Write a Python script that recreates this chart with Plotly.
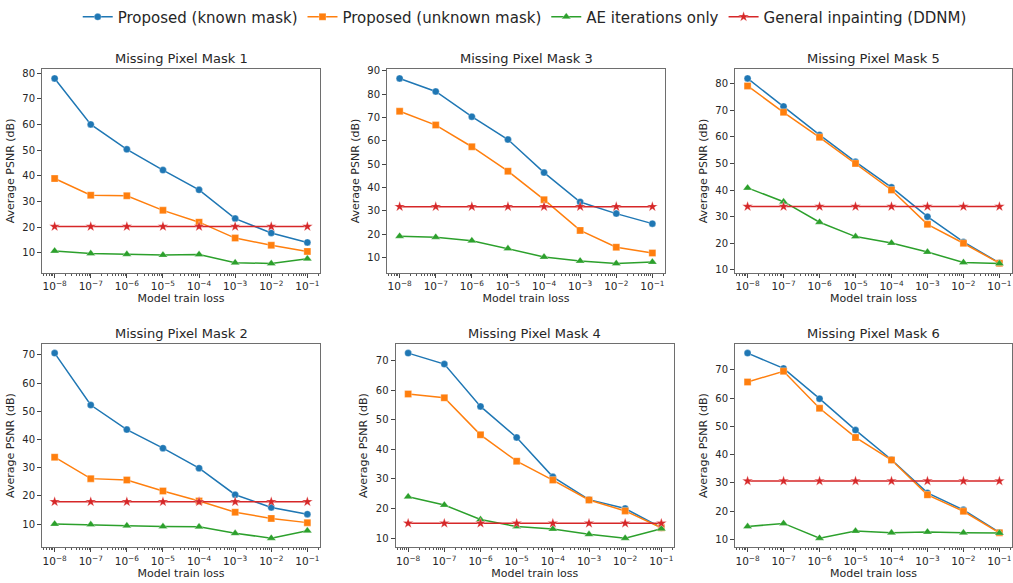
import plotly.graph_objects as go

# ---------------- data ----------------
train_loss = [1e-8, 1e-7, 1e-6, 1e-5, 1e-4, 1e-3, 1e-2, 1e-1]
tick_labels = ["10<sup>−8</sup>", "10<sup>−7</sup>", "10<sup>−6</sup>", "10<sup>−5</sup>",
               "10<sup>−4</sup>", "10<sup>−3</sup>", "10<sup>−2</sup>", "10<sup>−1</sup>"]
series_names = ["Proposed (known mask)", "Proposed (unknown mask)",
                "AE iterations only", "General inpainting (DDNM)"]

mask1_known = [77.9, 60.0, 50.3, 42.2, 34.5, 23.3, 17.7, 14.0]
mask1_unknown = [38.9, 32.4, 32.2, 26.5, 21.9, 15.7, 12.9, 10.5]
mask1_ae = [10.7, 9.7, 9.4, 9.1, 9.3, 6.1, 5.8, 7.6]
mask1_ddnm = [20.2] * 8

mask2_known = [70.6, 52.2, 43.5, 36.9, 29.8, 20.4, 15.9, 13.5]
mask2_unknown = [33.7, 26.1, 25.6, 21.7, 18.2, 14.2, 12.0, 10.5]
mask2_ae = [10.0, 9.8, 9.4, 9.1, 9.0, 6.7, 5.0, 7.6]
mask2_ddnm = [17.9] * 8

mask3_known = [86.8, 81.2, 70.4, 60.6, 46.4, 33.8, 28.8, 24.5]
mask3_unknown = [72.7, 66.8, 57.5, 47.0, 34.8, 21.6, 14.4, 11.9]
mask3_ae = [19.1, 18.7, 17.2, 13.8, 10.2, 8.5, 7.4, 8.0]
mask3_ddnm = [31.8] * 8

mask4_known = [72.5, 68.8, 54.5, 44.0, 30.7, 23.0, 20.0, 13.5]
mask4_unknown = [58.7, 57.4, 44.9, 36.0, 29.6, 22.9, 19.2, 13.5]
mask4_ae = [24.0, 21.2, 16.3, 13.9, 13.1, 11.3, 10.0, 13.2]
mask4_ddnm = [15.0] * 8

mask5_known = [81.9, 71.4, 60.7, 50.6, 41.0, 30.0, 20.5, 12.6]
mask5_unknown = [79.1, 69.2, 59.8, 50.0, 40.0, 27.1, 20.0, 12.5]
mask5_ae = [40.8, 35.6, 27.9, 22.5, 20.1, 16.7, 12.8, 12.4]
mask5_ddnm = [33.8] * 8

mask6_known = [75.9, 70.5, 59.8, 48.7, 38.2, 26.5, 20.5, 12.5]
mask6_unknown = [65.7, 69.5, 56.4, 46.1, 38.1, 25.8, 20.0, 12.4]
mask6_ae = [14.6, 15.7, 10.5, 13.0, 12.4, 12.7, 12.4, 12.3]
mask6_ddnm = [30.7] * 8

panels = [
    ("Missing Pixel Mask 1", [mask1_known, mask1_unknown, mask1_ae, mask1_ddnm]),
    ("Missing Pixel Mask 3", [mask3_known, mask3_unknown, mask3_ae, mask3_ddnm]),
    ("Missing Pixel Mask 5", [mask5_known, mask5_unknown, mask5_ae, mask5_ddnm]),
    ("Missing Pixel Mask 2", [mask2_known, mask2_unknown, mask2_ae, mask2_ddnm]),
    ("Missing Pixel Mask 4", [mask4_known, mask4_unknown, mask4_ae, mask4_ddnm]),
    ("Missing Pixel Mask 6", [mask6_known, mask6_unknown, mask6_ae, mask6_ddnm]),
]

# ---------------- style ----------------
W, H = 1013, 583
colors = ["#1f77b4", "#ff7f0e", "#2ca02c", "#d62728"]
symbols = ["circle", "square", "triangle-up", "star"]
msizes = [7, 7, 8, 8]
FONT = "DejaVu Sans"
TXT = "#262626"

# axes boxes in pixels: (left, right, top, bottom)
boxes = [
    (42, 320, 66, 272), (387, 665, 66, 272), (735, 1012, 66, 272),
    (42, 320, 344, 550), (395.5, 674, 344, 550), (735, 1012, 344, 550),
]

fig = go.Figure()
annotations = []
for i, ((title, ys), (l, r, t, b)) in enumerate(zip(panels, boxes)):
    n = i + 1
    xa = "x" if n == 1 else f"x{n}"
    ya = "y" if n == 1 else f"y{n}"
    for k in range(4):
        fig.add_trace(go.Scatter(
            x=train_loss, y=ys[k], mode="lines+markers", name=series_names[k],
            legendgroup=series_names[k], showlegend=(i == 0),
            line=dict(color=colors[k], width=1.5),
            marker=dict(symbol=symbols[k], size=msizes[k], color=colors[k],
                        line=dict(width=0.6, color="rgba(255,255,255,0.5)")),
            xaxis=xa, yaxis=ya))
    allv = [v for s in ys for v in s]
    lo, hi = min(allv), max(allv)
    pad = 0.05 * (hi - lo)
    xd = [l / W, r / W]
    yd = [1 - b / H, 1 - t / H]
    axis_common = dict(showline=True, mirror=True, linecolor="#6e6e6e", linewidth=1,
                       ticks="outside", ticklen=4, tickcolor="#444", tickwidth=1,
                       showgrid=False, zeroline=False)
    fig.update_layout(**{
        ("xaxis" if n == 1 else f"xaxis{n}"): dict(
            domain=xd, anchor=ya, type="log", range=[-8.35, -0.65],
            tickmode="array", tickvals=train_loss, ticktext=tick_labels,
            tickfont=dict(family=FONT, size=10.5, color=TXT),
            minor=dict(ticks="outside", ticklen=2, tickcolor="#555", dtick="D1", showgrid=False),
            title=dict(text="Model train loss", font=dict(family=FONT, size=11, color=TXT), standoff=1),
            **axis_common),
        ("yaxis" if n == 1 else f"yaxis{n}"): dict(
            domain=yd, anchor=xa, range=[lo - pad, hi + pad], tick0=0, dtick=10,
            tickfont=dict(family=FONT, size=10, color=TXT),
            title=dict(text="Average PSNR (dB)", font=dict(family=FONT, size=11, color=TXT), standoff=5),
            **axis_common),
    })
    annotations.append(dict(text=title, x=(l + r) / 2 / W, y=1 - t / H, xref="paper", yref="paper",
                            xanchor="center", yanchor="bottom", yshift=1, showarrow=False,
                            font=dict(family=FONT, size=13, color=TXT)))

fig.update_layout(
    width=W, height=H, margin=dict(l=0, r=0, t=0, b=0),
    paper_bgcolor="white", plot_bgcolor="white",
    annotations=annotations,
    legend=dict(orientation="h", x=0.518, xanchor="center", y=1.006, yanchor="top",
                font=dict(family=FONT, size=15, color=TXT), itemwidth=30,
                bgcolor="rgba(0,0,0,0)", tracegroupgap=0),
)
fig.write_html("out.html")
